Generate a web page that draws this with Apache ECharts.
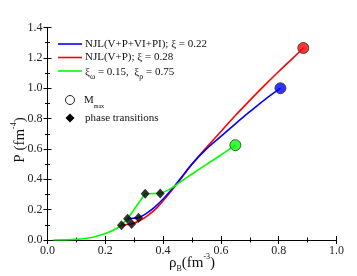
<!DOCTYPE html>
<html><head><meta charset="utf-8">
<script src="https://cdn.jsdelivr.net/npm/echarts@6/dist/echarts.min.js"></script>
<style>html,body{margin:0;padding:0;background:#fff}#c{width:357px;height:276px}</style>
</head><body><div id="c"></div>
<script>
// Common hadronic part (shared by all three curves)
const hadronX = [0.02, 0.06, 0.10, 0.13, 0.16, 0.19, 0.22, 0.24, 0.256];
const hadronY = [0.0, 0.0008, 0.004, 0.010, 0.020, 0.036, 0.058, 0.077, 0.098];
// shared rise between the first two transition points
const sharedX = [0.256, 0.277];
const sharedY = [0.098, 0.140];
// NJL(V+P+VI+PI); xi = 0.22 (blue)
const blueFlatX = [0.277, 0.315];
const blueFlatY = [0.140, 0.146];
const blueX = [0.315, 0.34, 0.37, 0.40, 0.43, 0.46, 0.50, 0.55, 0.60, 0.65, 0.70, 0.75, 0.806];
const blueY = [0.146, 0.172, 0.215, 0.27, 0.335, 0.405, 0.50, 0.60, 0.683, 0.765, 0.845, 0.922, 1.00];
// NJL(V+P); xi = 0.28 (red)
const redFlatX = [0.256, 0.291];
const redFlatY = [0.098, 0.105];
const redX = [0.291, 0.32, 0.35, 0.38, 0.41, 0.44, 0.47, 0.50, 0.55, 0.60, 0.65, 0.70, 0.75, 0.80, 0.85, 0.885];
const redY = [0.105, 0.128, 0.165, 0.215, 0.28, 0.35, 0.425, 0.50, 0.61, 0.715, 0.82, 0.92, 1.017, 1.11, 1.20, 1.265];
// xi_omega = 0.15, xi_rho = 0.75 (green)
const greenStepX = [0.277, 0.338, 0.39];
const greenStepY = [0.140, 0.305, 0.307];
const greenX = [0.39, 0.41, 0.43, 0.45, 0.50, 0.55, 0.60, 0.65];
const greenY = [0.307, 0.322, 0.343, 0.37, 0.435, 0.498, 0.56, 0.625];
// Phase transition points
const transX = [0.256, 0.291, 0.277, 0.315, 0.338, 0.39];
const transY = [0.098, 0.105, 0.140, 0.146, 0.305, 0.307];
// Maximum mass points (blue, red, green)
const mmaxX = [0.806, 0.885, 0.65];
const mmaxY = [1.00, 1.265, 0.625];
const mmaxColors = ['#0000ff', '#ff0000', '#00ff00'];

const zip = (xs, ys) => xs.map((x, i) => [x, ys[i]]);
const FONT = '"Liberation Serif", "Times New Roman", serif';
const BLUE = '#0000ff', RED = '#ff0000', GREEN = '#00ff00';
const chart = echarts.init(document.getElementById('c'), null, {renderer: 'canvas'});

const axisCommon = {
  axisLine: {lineStyle: {color: '#000', width: 1}},
  axisTick: {inside: true, length: 4, lineStyle: {color: '#000'}},
  minorTick: {show: true, splitNumber: 2, length: 2.5, lineStyle: {color: '#000'}},
  splitLine: {show: false},
  axisLabel: {fontFamily: FONT, fontSize: 12, color: '#222', margin: 5, formatter: v => v.toFixed(1)}
};

const line = (data, color, z, smooth) => ({
  type: 'line', data, smooth: smooth ? 0.35 : false, showSymbol: false, symbol: 'none',
  lineStyle: {color, width: 1.6}, z
});

chart.setOption({
  animation: false,
  grid: {left: 47.5, right: 20.5, top: 27.5, bottom: 36},
  xAxis: [
    Object.assign({type: 'value', min: 0, max: 1, interval: 0.2, position: 'bottom'}, axisCommon),
    Object.assign({type: 'value', min: 0, max: 1, interval: 0.2, position: 'top'}, axisCommon, {axisLabel: {show: false}})
  ],
  yAxis: [
    Object.assign({type: 'value', min: 0, max: 1.4, interval: 0.2, position: 'left'}, axisCommon),
    Object.assign({type: 'value', min: 0, max: 1.4, interval: 0.2, position: 'right'}, axisCommon, {axisLabel: {show: false}})
  ],
  series: [
    line(zip(blueFlatX, blueFlatY), BLUE, 3, false),
    line(zip(blueX, blueY), BLUE, 3, true),
    line(zip(redFlatX, redFlatY), RED, 2, false),
    line(zip(redX, redY), RED, 2, true),
    line(zip(greenStepX, greenStepY), GREEN, 4, false),
    line(zip(greenX, greenY), GREEN, 4, true),
    line(zip(sharedX, sharedY), GREEN, 4, false),
    line(zip(hadronX, hadronY), GREEN, 4, true),
    {type: 'scatter', data: zip(transX, transY), symbol: 'diamond', symbolSize: [9, 10],
     itemStyle: {color: '#000'}, z: 10},
    {type: 'scatter', data: zip(mmaxX, mmaxY).map((p, i) => ({value: p, itemStyle: {color: mmaxColors[i]}})),
     symbol: 'circle', symbolSize: 11, itemStyle: {borderColor: '#333', borderWidth: 1}, z: 10}
  ],
  graphic: [
    {type: 'line', shape: {x1: 58, y1: 44, x2: 82, y2: 44}, style: {stroke: BLUE, lineWidth: 1.6}},
    {type: 'line', shape: {x1: 58, y1: 57.5, x2: 82, y2: 57.5}, style: {stroke: RED, lineWidth: 1.6}},
    {type: 'line', shape: {x1: 58, y1: 71, x2: 82, y2: 71}, style: {stroke: GREEN, lineWidth: 1.6}},
    {type: 'text', x: 85, y: 44, style: {text: 'NJL(V+P+VI+PI); ξ = 0.22', font: '11px ' + FONT, fill: '#111', textVerticalAlign: 'middle'}},
    {type: 'text', x: 85, y: 57.5, style: {text: 'NJL(V+P); ξ = 0.28', font: '11px ' + FONT, fill: '#111', textVerticalAlign: 'middle'}},
    {type: 'text', x: 85, y: 74, style: {
      text: '{m|ξ}{s|ω}{m| = 0.15,  ξ}{s|ρ}{m| = 0.75}',
      verticalAlign: 'middle',
      rich: {m: {fontFamily: FONT, fontSize: 11, fill: '#111', lineHeight: 14, verticalAlign: 'top'},
             s: {fontFamily: FONT, fontSize: 8, fill: '#111', lineHeight: 14, verticalAlign: 'bottom'}}
    }},
    {type: 'circle', shape: {cx: 70, cy: 100, r: 4.5}, style: {fill: '#fff', stroke: '#222', lineWidth: 1}},
    {type: 'text', x: 84, y: 102, style: {
      text: '{m|M}{s|max}', verticalAlign: 'middle',
      rich: {m: {fontFamily: FONT, fontSize: 11, fill: '#111', lineHeight: 14, verticalAlign: 'top'},
             s: {fontFamily: FONT, fontSize: 6, fill: '#111', lineHeight: 14, verticalAlign: 'bottom'}}
    }},
    {type: 'polygon', shape: {points: [[70, 113.5], [74.5, 118], [70, 122.5], [65.5, 118]]}, style: {fill: '#000'}},
    {type: 'text', x: 85, y: 118, style: {text: 'phase transitions', font: '11px ' + FONT, fill: '#111', textVerticalAlign: 'middle'}},
    {type: 'text', x: 19, y: 140, rotation: Math.PI / 2, style: {
      text: '{m|P (fm}{s|-4}{m|)}', align: 'center', verticalAlign: 'middle',
      rich: {m: {fontFamily: FONT, fontSize: 15, fill: '#111', lineHeight: 18, verticalAlign: 'bottom'},
             s: {fontFamily: FONT, fontSize: 8, fill: '#111', lineHeight: 18, verticalAlign: 'top'}}
    }},
    {type: 'text', x: 192, y: 263, style: {
      text: '{m|ρ}{b|B}{m|(fm}{s|-3}{m|)}', align: 'center', verticalAlign: 'middle',
      rich: {m: {fontFamily: FONT, fontSize: 15, fill: '#111', lineHeight: 20, verticalAlign: 'middle'},
             b: {fontFamily: FONT, fontSize: 8, fill: '#111', lineHeight: 20, verticalAlign: 'bottom'},
             s: {fontFamily: FONT, fontSize: 8, fill: '#111', lineHeight: 20, verticalAlign: 'top'}}
    }}
  ]
});
</script></body></html>
